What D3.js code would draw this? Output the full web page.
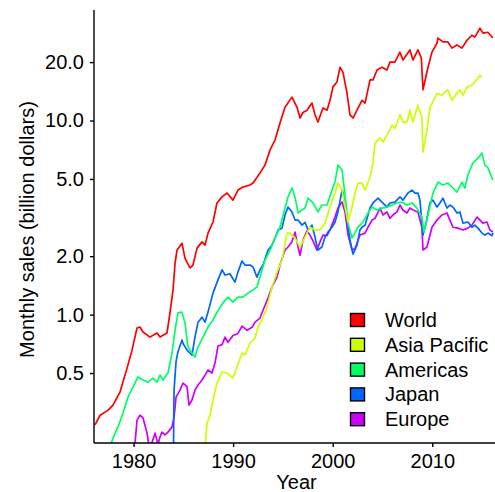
<!DOCTYPE html>
<html>
<head>
  <meta charset="UTF-8">
  <title>Semiconductor sales</title>
  <script src="https://d3js.org/d3.v7.min.js"></script>
  <style>
    body { margin: 0; background: #fff; }
    svg { font-family: "Liberation Sans", Arial, sans-serif; }
    .axis text { font-size: 20px; fill: #000; }
    .axis path, .axis line { stroke: #000; stroke-width: 1.4px; }
    .series { fill: none; stroke-width: 1.7px; stroke-linejoin: round; }
  </style>
</head>
<body>
  <svg></svg>
  <script>
    // [year, billion dollars]
    const world = [[1976.13,0.270],[1976.64,0.303],[1977.44,0.322],[1977.94,0.342],[1978.64,0.399],[1979.35,0.530],[1979.85,0.656],[1980.35,0.853],[1980.65,0.863],[1980.95,0.813],[1981.66,0.766],[1982.36,0.803],[1982.66,0.766],[1983.36,0.803],[1983.66,1.02],[1983.97,1.34],[1984.17,1.84],[1984.37,2.15],[1984.87,2.33],[1985.17,1.95],[1985.67,1.74],[1985.97,1.80],[1986.38,2.20],[1986.88,2.37],[1987.18,2.28],[1987.48,2.63],[1987.98,3.00],[1988.38,3.76],[1988.89,4.04],[1989.39,4.23],[1989.99,3.89],[1990.49,4.38],[1990.99,4.54],[1991.70,4.65],[1992.00,4.76],[1992.70,5.36],[1993.20,5.89],[1993.71,7.05],[1994.21,7.93],[1994.71,9.70],[1995.21,11.7],[1995.91,13.2],[1996.42,11.7],[1996.72,10.3],[1997.02,11.0],[1997.42,11.3],[1997.92,12.3],[1998.22,10.7],[1998.52,9.82],[1999.02,11.6],[1999.43,11.3],[1999.73,12.7],[2000.03,14.9],[2000.43,15.8],[2000.73,18.8],[2001.04,17.7],[2001.44,13.8],[2001.74,10.7],[2002.04,10.3],[2002.44,11.3],[2002.94,12.7],[2003.25,12.3],[2003.75,16.2],[2004.05,16.2],[2004.45,18.2],[2004.95,18.8],[2005.45,18.2],[2005.75,20.0],[2006.25,20.0],[2006.75,22.5],[2007.06,20.5],[2007.76,23.1],[2008.06,20.5],[2008.56,23.1],[2008.90,21.0],[2009.07,14.4],[2009.57,18.8],[2009.97,22.5],[2010.47,25.0],[2010.57,26.6],[2011.07,25.4],[2011.57,25.4],[2011.98,23.6],[2012.48,24.5],[2012.98,23.6],[2013.48,25.9],[2013.98,27.5],[2014.28,26.9],[2014.79,29.9],[2015.09,28.2],[2015.59,28.5],[2016.09,26.6]];

    const asiaPacific = [[1987.10,0.19],[1987.38,0.276],[1987.68,0.303],[1987.98,0.363],[1988.38,0.444],[1988.89,0.506],[1989.39,0.500],[1989.99,0.471],[1990.39,0.537],[1990.89,0.634],[1991.19,0.619],[1991.70,0.713],[1992.20,0.757],[1992.50,0.863],[1992.90,0.938],[1993.40,1.09],[1993.91,1.39],[1994.41,1.66],[1994.91,1.91],[1995.41,2.63],[1995.71,2.63],[1996.22,2.48],[1996.72,2.23],[1997.22,2.51],[1997.72,2.82],[1998.22,2.73],[1998.73,2.73],[1999.23,2.96],[1999.73,3.58],[2000.23,4.23],[2000.53,4.76],[2000.94,4.38],[2001.24,3.58],[2001.54,3.00],[2001.94,3.58],[2002.24,4.23],[2002.54,4.76],[2002.94,4.76],[2003.25,4.38],[2003.75,5.12],[2004.05,6.04],[2004.25,7.65],[2004.75,8.11],[2005.05,7.74],[2005.55,8.61],[2005.96,9.47],[2006.26,9.14],[2006.76,10.7],[2007.06,9.82],[2007.46,9.82],[2007.76,11.3],[2008.06,9.82],[2008.56,12.0],[2008.96,10.4],[2009.07,6.88],[2009.47,8.93],[2009.77,11.7],[2010.27,13.1],[2010.47,13.8],[2010.97,13.5],[2011.27,14.0],[2011.57,14.4],[2011.98,12.7],[2012.48,13.8],[2012.78,14.4],[2013.08,13.5],[2013.48,14.9],[2013.98,15.2],[2014.28,15.8],[2014.79,17.1],[2014.99,16.7]];

    const americas = [[1977.50,0.20],[1977.94,0.231],[1978.44,0.264],[1978.95,0.311],[1979.45,0.376],[1979.95,0.424],[1980.45,0.477],[1980.95,0.460],[1981.46,0.449],[1981.96,0.471],[1982.36,0.449],[1982.66,0.488],[1982.96,0.460],[1983.46,0.500],[1983.87,0.634],[1984.17,0.834],[1984.47,1.02],[1984.87,1.03],[1985.17,0.904],[1985.47,0.681],[1985.87,0.634],[1986.17,0.604],[1986.48,0.681],[1986.98,0.766],[1987.48,0.863],[1987.98,0.938],[1988.48,1.05],[1988.99,1.15],[1989.49,1.23],[1989.99,1.16],[1990.49,1.23],[1990.99,1.23],[1991.50,1.29],[1992.00,1.34],[1992.40,1.39],[1992.70,1.56],[1993.20,1.91],[1993.71,2.15],[1994.21,2.48],[1994.71,2.82],[1995.21,3.54],[1995.51,4.04],[1995.91,4.49],[1996.22,4.04],[1996.52,3.34],[1996.92,3.46],[1997.22,3.54],[1997.52,3.98],[1998.02,3.76],[1998.52,3.38],[1998.92,3.67],[1999.43,3.67],[1999.93,4.38],[2000.23,4.82],[2000.53,5.89],[2000.94,5.56],[2001.24,4.13],[2001.54,2.96],[2001.94,2.48],[2002.24,2.63],[2002.54,2.82],[2003.05,3.00],[2003.55,3.34],[2003.95,3.58],[2004.45,3.46],[2004.95,3.54],[2005.45,3.58],[2005.96,3.67],[2006.46,3.76],[2006.96,3.80],[2007.46,3.67],[2007.96,3.76],[2008.46,3.54],[2008.96,3.18],[2009.17,2.66],[2009.57,3.26],[2010.07,4.23],[2010.57,4.82],[2011.07,4.65],[2011.57,4.76],[2012.08,4.49],[2012.48,4.28],[2012.98,4.82],[2013.28,4.49],[2013.58,5.24],[2014.08,6.04],[2014.59,6.40],[2014.99,6.79],[2015.29,5.89],[2015.59,5.72],[2016.00,5.05],[2016.09,4.93]];

    const japan = [[1983.95,0.10],[1984.07,0.408],[1984.27,0.574],[1984.47,0.646],[1984.87,0.740],[1984.97,0.710],[1985.37,0.656],[1985.67,0.634],[1985.87,0.619],[1986.17,0.766],[1986.48,0.914],[1986.88,0.970],[1987.18,0.914],[1987.48,1.03],[1987.98,1.29],[1988.48,1.51],[1988.89,1.70],[1989.19,1.60],[1989.69,1.62],[1990.19,1.47],[1990.49,1.66],[1990.89,1.89],[1991.19,1.80],[1991.70,1.80],[1992.00,1.76],[1992.40,1.56],[1992.70,1.70],[1993.00,1.80],[1993.51,2.15],[1993.91,2.28],[1994.21,2.48],[1994.51,2.73],[1994.91,2.79],[1995.21,3.26],[1995.51,3.58],[1995.91,3.38],[1996.22,3.07],[1996.52,3.07],[1996.92,2.89],[1997.22,2.99],[1997.52,2.73],[1997.92,2.89],[1998.22,2.51],[1998.52,2.15],[1998.92,2.23],[1999.23,2.51],[1999.53,2.66],[1999.93,2.82],[2000.23,2.99],[2000.53,3.38],[2000.94,4.38],[2001.04,4.23],[2001.44,3.18],[2001.74,2.42],[2002.04,2.05],[2002.44,2.28],[2002.74,2.73],[2002.94,2.82],[2003.25,2.89],[2003.75,3.54],[2004.05,3.76],[2004.55,3.98],[2004.95,3.80],[2005.45,3.58],[2005.75,3.76],[2006.25,3.80],[2006.76,4.04],[2007.06,3.89],[2007.56,4.23],[2007.96,4.38],[2008.26,4.23],[2008.56,4.23],[2008.76,3.89],[2009.07,2.57],[2009.37,2.96],[2009.77,3.76],[2010.07,3.89],[2010.47,3.58],[2010.77,3.76],[2011.07,3.98],[2011.47,3.54],[2011.77,3.67],[2012.08,3.58],[2012.48,3.34],[2012.78,3.38],[2013.08,2.96],[2013.58,3.00],[2013.98,2.82],[2014.28,2.89],[2014.59,2.79],[2014.99,2.63],[2015.29,2.57],[2015.59,2.63],[2016.00,2.55],[2016.09,2.63]];

    const europe = [[1980.05,0.19],[1980.35,0.286],[1980.65,0.303],[1980.95,0.294],[1981.36,0.245],[1981.56,0.210],[1981.86,0.220],[1982.16,0.245],[1982.46,0.215],[1982.66,0.234],[1982.86,0.248],[1983.16,0.240],[1983.46,0.248],[1983.87,0.264],[1984.07,0.297],[1984.27,0.376],[1984.67,0.408],[1984.97,0.444],[1985.37,0.426],[1985.57,0.342],[1985.87,0.363],[1986.17,0.408],[1986.48,0.434],[1986.88,0.460],[1987.18,0.488],[1987.48,0.518],[1987.88,0.500],[1988.18,0.562],[1988.48,0.689],[1988.89,0.700],[1989.19,0.766],[1989.49,0.720],[1989.99,0.780],[1990.49,0.800],[1990.89,0.873],[1991.40,0.830],[1991.90,0.860],[1992.20,0.914],[1992.70,0.960],[1993.00,1.05],[1993.51,1.22],[1993.91,1.39],[1994.41,1.56],[1994.71,1.80],[1995.21,2.15],[1995.51,2.23],[1995.91,2.37],[1996.22,2.66],[1996.52,2.23],[1996.72,2.02],[1997.02,2.42],[1997.42,2.70],[1997.72,2.57],[1998.02,2.40],[1998.42,2.15],[1998.73,2.37],[1999.03,2.57],[1999.43,2.55],[1999.73,2.73],[2000.23,3.18],[2000.53,3.54],[2000.94,3.80],[2001.24,3.38],[2001.54,2.57],[2001.94,2.15],[2002.24,2.19],[2002.54,2.40],[2002.74,2.57],[2003.25,2.63],[2003.55,2.82],[2003.95,3.07],[2004.25,3.13],[2004.75,3.54],[2005.05,3.26],[2005.45,3.38],[2005.75,3.13],[2006.06,3.26],[2006.46,3.38],[2006.76,3.67],[2007.06,3.46],[2007.46,3.34],[2007.76,3.54],[2008.06,3.46],[2008.56,3.38],[2008.96,2.82],[2009.07,2.15],[2009.47,2.23],[2009.97,2.82],[2010.47,3.07],[2010.97,3.26],[2011.47,3.34],[2011.77,3.07],[2012.08,2.82],[2012.58,2.79],[2013.08,2.73],[2013.58,2.79],[2013.98,2.89],[2014.49,3.18],[2014.79,3.07],[2015.09,2.96],[2015.49,3.00],[2015.79,2.73],[2016.09,2.66]];

    const seriesNames = ['World', 'Asia Pacific', 'Americas', 'Japan', 'Europe'];
    const seriesData = [world, asiaPacific, americas, japan, europe];
    const colors = ['#FF0000', '#CCFF00', '#00FF66', '#0066FF', '#CC00FF'];
    const yTicks = [0.5, 1, 2, 5, 10, 20];
    const xTicks = [1980, 1990, 2000, 2010];

    const W = 495, H = 492;
    const plotL = 94, plotR = 495, plotT = 10, plotB = 443;

    const svg = d3.select('svg')
        .attr('width', W)
        .attr('height', H);

    const x = d3.scaleLinear()
        .domain([1976.03, 2016.3])
        .range([plotL, plotR]);

    const y = d3.scaleLog()
        .domain([0.218, 37.1])
        .range([plotB, plotT]);

    svg.append('clipPath')
        .attr('id', 'plot-clip')
      .append('rect')
        .attr('x', plotL)
        .attr('y', plotT)
        .attr('width', plotR - plotL)
        .attr('height', plotB - plotT);

    const line = d3.line()
        .x(d => x(d[0]))
        .y(d => y(d[1]));

    const lines = svg.append('g').attr('clip-path', 'url(#plot-clip)');

    // draw back to front so World ends on top
    seriesData.map((s, i) => i).reverse().forEach(i => {
      lines.append('path')
          .datum(seriesData[i])
          .attr('class', 'series')
          .attr('stroke', colors[i])
          .attr('d', line);
    });

    svg.append('g')
        .attr('class', 'axis')
        .attr('transform', `translate(${plotL},0)`)
        .call(d3.axisLeft(y).tickValues(yTicks).tickFormat(d3.format('.1f'))
          .tickSize(4).tickSizeOuter(0).tickPadding(6))
        .call(g => g.select('.domain').attr('d', `M0,${plotT}V${plotB}`));

    svg.append('g')
        .attr('class', 'axis')
        .attr('transform', `translate(0,${plotB})`)
        .call(d3.axisBottom(x).tickValues(xTicks).tickFormat(d3.format('d'))
          .tickSize(4).tickSizeOuter(0).tickPadding(7))
        .call(g => g.select('.domain').attr('d', `M${plotL},0H${plotR}`));

    svg.append('text')
        .attr('transform', `translate(34,${(97 + 362) / 2}) rotate(-90)`)
        .attr('text-anchor', 'middle')
        .style('font-size', '20px')
        .text('Monthly sales (billion dollars)');

    svg.append('text')
        .attr('x', (plotL + plotR) / 2 + 2)
        .attr('y', 489)
        .attr('text-anchor', 'middle')
        .style('font-size', '20px')
        .text('Year');

    const legend = svg.append('g').attr('transform', 'translate(350,320)');
    seriesNames.forEach((name, i) => {
      const row = legend.append('g').attr('transform', `translate(0,${i * 24.8})`);
      row.append('rect')
          .attr('x', 0.5)
          .attr('y', -6.5)
          .attr('width', 14)
          .attr('height', 13)
          .attr('fill', colors[i])
          .attr('stroke', '#000')
          .attr('stroke-width', 1.4);
      row.append('text')
          .attr('x', 35)
          .attr('dy', '0.35em')
          .style('font-size', '20px')
          .text(name);
    });
  </script>
</body>
</html>
